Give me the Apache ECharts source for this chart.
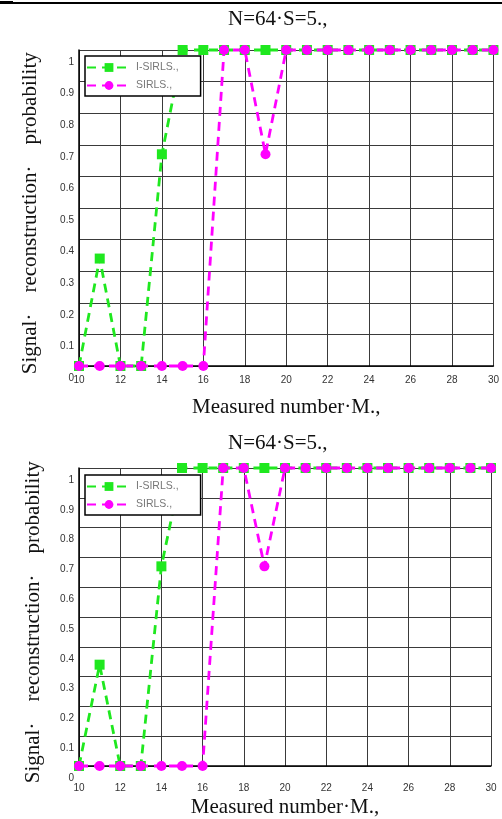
<!DOCTYPE html>
<html>
<head>
<meta charset="utf-8">
<script src="https://cdn.jsdelivr.net/npm/echarts@6/dist/echarts.min.js"></script>
<style>
  html, body { margin: 0; padding: 0; background: #ffffff; }
  #chart { width: 502px; height: 819px; }
</style>
</head>
<body>
<div id="chart"></div>
<script>
// ---- data ----
const measuredM = [10, 11, 12, 13, 14, 15, 16, 17, 18, 19, 20, 21, 22, 23, 24, 25, 26, 27, 28, 29, 30];
const isirlsProb = [0, 0.34, 0, 0, 0.67, 1, 1, 1, 1, 1, 1, 1, 1, 1, 1, 1, 1, 1, 1, 1, 1];
const sirlsProb  = [0, 0, 0, 0, 0, 0, 0, 1, 1, 0.67, 1, 1, 1, 1, 1, 1, 1, 1, 1, 1, 1];
const xTickLabels = [10, 12, 14, 16, 18, 20, 22, 24, 26, 28, 30];
const yTickLabels = ['0', '0.1', '0.2', '0.3', '0.4', '0.5', '0.6', '0.7', '0.8', '0.9', '1'];
const seriesNames = ['I-SIRLS.,', 'SIRLS.,'];
const chartTitle = 'N=64·S=5.,';
const xTitle = 'Measured number·M.,';
const yTitle = 'Signal·    reconstruction·    probability  ';

const GREEN = '#1fe81f';
const MAGENTA = '#ff00ff';
const SERIF = '"Liberation Serif", "DejaVu Serif", serif';
const SANS = '"Liberation Sans", Arial, sans-serif';

function pairs(xs, ys) { return xs.map((x, i) => [x, ys[i]]); }

function makeX(gridIndex, labelMargin, nameGap) {
  return {
    gridIndex: gridIndex,
    type: 'value',
    min: xTickLabels[0],
    max: xTickLabels[xTickLabels.length - 1],
    interval: xTickLabels[1] - xTickLabels[0],
    name: xTitle,
    nameLocation: 'middle',
    nameGap: nameGap,
    nameTextStyle: { fontFamily: SERIF, fontSize: 21, color: '#111' },
    axisLine: { show: true, onZero: false, lineStyle: { color: '#000', width: 1.5 } },
    axisTick: { show: false },
    axisLabel: { margin: labelMargin, fontFamily: SANS, fontSize: 10, color: '#333' },
    splitLine: { show: true, lineStyle: { color: '#3a3a3a', width: 1 } }
  };
}

function makeY(gridIndex, nameGap) {
  return {
    gridIndex: gridIndex,
    type: 'value',
    min: 0,
    max: 1,
    interval: 0.1,
    name: yTitle,
    nameLocation: 'middle',
    nameGap: nameGap,
    nameTextStyle: { fontFamily: SERIF, fontSize: 21, color: '#111' },
    axisLine: { show: true, lineStyle: { color: '#000', width: 1.5 } },
    axisTick: { show: false },
    axisLabel: {
      margin: 5,
      fontFamily: SANS, fontSize: 10, color: '#333',
      verticalAlign: 'top',
      lineHeight: 24,
      formatter: function (v) { return yTickLabels[Math.round(v * 10)]; }
    },
    splitLine: { show: true, lineStyle: { color: '#3a3a3a', width: 1 } }
  };
}

function makeSeries(idx) {
  return [
    {
      name: seriesNames[0], type: 'line',
      xAxisIndex: idx, yAxisIndex: idx,
      data: pairs(measuredM, isirlsProb),
      symbol: 'rect', symbolSize: 10, clip: false,
      lineStyle: { color: GREEN, width: 2.8, type: [9, 6] },
      itemStyle: { color: GREEN }
    },
    {
      name: seriesNames[1], type: 'line',
      xAxisIndex: idx, yAxisIndex: idx,
      data: pairs(measuredM, sirlsProb),
      symbol: 'circle', symbolSize: 10, clip: false,
      lineStyle: { color: MAGENTA, width: 2.8, type: [9, 6] },
      itemStyle: { color: MAGENTA }
    }
  ];
}

function makeLegend(left, top) {
  return {
    data: seriesNames,
    orient: 'vertical',
    left: left, top: top,
    itemWidth: 44, itemHeight: 11, itemGap: 7,
    padding: [6, 22, 5, 1],
    borderColor: '#000', borderWidth: 1.5,
    backgroundColor: '#fff',
    selectedMode: false,
    textStyle: { fontFamily: SANS, fontSize: 10.5, color: '#777' }
  };
}

const chart = echarts.init(document.getElementById('chart'), null, { renderer: 'canvas' });
chart.setOption({
  animation: false,
  backgroundColor: '#fff',
  title: [
    { text: chartTitle, left: 228, top: 9, padding: 0,
      textStyle: { fontFamily: SERIF, fontSize: 21, fontWeight: 'normal', color: '#111' } },
    { text: chartTitle, left: 228, top: 433, padding: 0,
      textStyle: { fontFamily: SERIF, fontSize: 21, fontWeight: 'normal', color: '#111' } }
  ],
  legend: [makeLegend(85, 56), makeLegend(85, 475)],
  grid: [
    { left: 79, right: 8, top: 50, height: 316 },
    { left: 79, right: 11, top: 468, height: 298 }
  ],
  xAxis: [makeX(0, 9, 31), makeX(1, 17, 31)],
  yAxis: [makeY(0, 38), makeY(1, 35)],
  series: makeSeries(0).concat(makeSeries(1)),
  graphic: [
    { type: 'rect', shape: { x: 0, y: 2, width: 502, height: 2 }, style: { fill: '#000' } },
    { type: 'rect', shape: { x: 0, y: 1, width: 13, height: 3 }, style: { fill: '#000' } }
  ]
});
</script>
</body>
</html>
